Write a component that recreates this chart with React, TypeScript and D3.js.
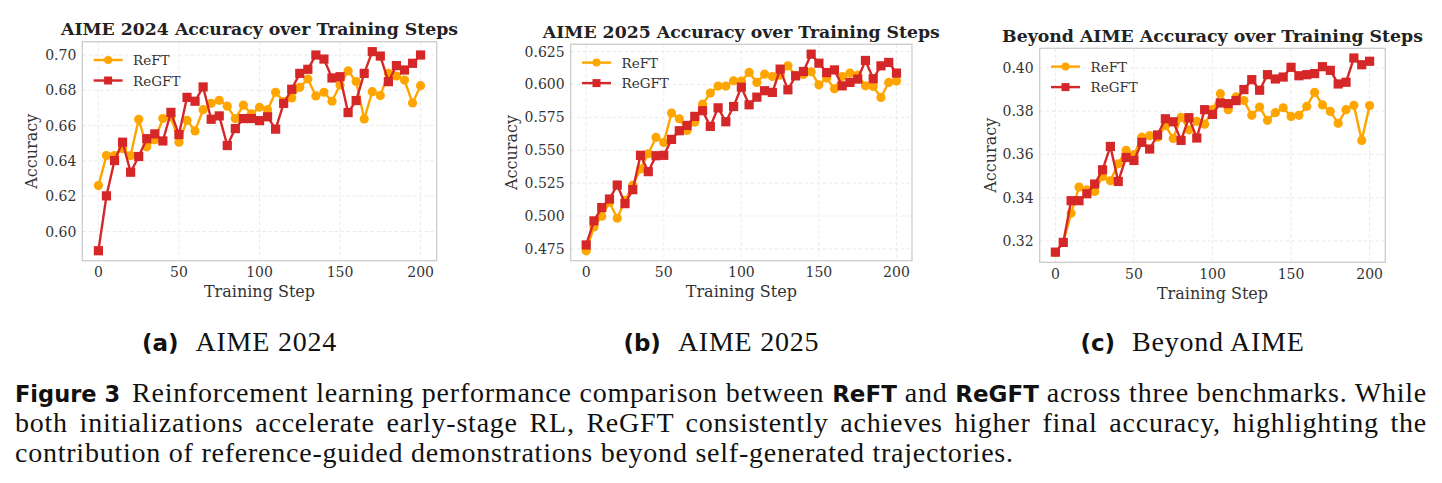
import React, { useEffect, useRef } from "react"
import * as d3 from "d3"

// training steps shared by all three benchmarks
const steps = [
  0, 5, 10, 15, 20, 25, 30, 35, 40, 45, 50, 55, 60, 65, 70, 75, 80, 85, 90, 95, 100,
  105, 110, 115, 120, 125, 130, 135, 140, 145, 150, 155, 160, 165, 170, 175, 180, 185, 190, 195, 200,
]
const xTicks = [0, 50, 100, 150, 200]

const aime24Reft = [
  0.626, 0.643, 0.643, 0.647, 0.643, 0.6636, 0.648, 0.652, 0.664, 0.665, 0.6506, 0.663, 0.657, 0.669,
  0.6726, 0.6743, 0.671, 0.664, 0.6716, 0.6666, 0.6704, 0.669, 0.6789, 0.6736, 0.6757, 0.6817, 0.6864,
  0.6768, 0.6789, 0.6738, 0.683, 0.691, 0.685, 0.6638, 0.6792, 0.677, 0.6896, 0.6881, 0.6858, 0.6728, 0.6826,
]
const aime24Regft = [
  0.5891, 0.6202, 0.6402, 0.6506, 0.6336, 0.6425, 0.6526, 0.6553, 0.6513, 0.6675, 0.6549, 0.676, 0.6738,
  0.6819, 0.6636, 0.6655, 0.6487, 0.6583, 0.664, 0.664, 0.6628, 0.665, 0.658, 0.6726, 0.6806, 0.6896,
  0.6919, 0.7, 0.6977, 0.687, 0.6877, 0.6674, 0.6742, 0.6896, 0.7019, 0.6994, 0.6849, 0.694, 0.6915, 0.6953, 0.7,
]
const aime24Ticks = [0.6, 0.62, 0.64, 0.66, 0.68, 0.7]

const aime25Reft = [
  0.4735, 0.4917, 0.4998, 0.5104, 0.4983, 0.5119, 0.5233, 0.5357, 0.5473, 0.5597, 0.5559, 0.5782, 0.5739,
  0.565, 0.5714, 0.585, 0.5934, 0.5987, 0.5987, 0.6027, 0.6025, 0.6091, 0.6015, 0.6078, 0.606, 0.607,
  0.6141, 0.6066, 0.6076, 0.6096, 0.5997, 0.6048, 0.5967, 0.606, 0.6086, 0.607, 0.5989, 0.5984, 0.5901, 0.6015, 0.6025,
]
const aime25Regft = [
  0.478, 0.4963, 0.5064, 0.5129, 0.5235, 0.5094, 0.52, 0.5461, 0.5337, 0.5458, 0.5461, 0.5582, 0.5648,
  0.5688, 0.5757, 0.58, 0.5681, 0.5822, 0.5716, 0.5832, 0.5979, 0.5845, 0.5903, 0.5952, 0.5939, 0.6116,
  0.5959, 0.6065, 0.6098, 0.623, 0.6161, 0.609, 0.611, 0.5989, 0.6015, 0.604, 0.6182, 0.6043, 0.6141, 0.6167, 0.6086,
]
const aime25Ticks = [0.475, 0.5, 0.525, 0.55, 0.575, 0.6, 0.625]

const beyondReft = [
  0.3146, 0.3193, 0.3328, 0.3449, 0.3436, 0.3429, 0.3498, 0.3478, 0.3557, 0.3619, 0.3599, 0.368, 0.3687,
  0.368, 0.3733, 0.3674, 0.3771, 0.3714, 0.3753, 0.374, 0.3807, 0.3881, 0.3807, 0.3866, 0.3849, 0.3781,
  0.3819, 0.3758, 0.3793, 0.3816, 0.3776, 0.3781, 0.3822, 0.3887, 0.3829, 0.3799, 0.3744, 0.3807, 0.3827, 0.3665, 0.3826,
]
const beyondRegft = [
  0.3148, 0.3193, 0.3386, 0.3386, 0.3418, 0.3463, 0.3529, 0.3637, 0.3475, 0.3586, 0.3572, 0.3656, 0.3625,
  0.369, 0.3765, 0.3751, 0.3665, 0.377, 0.3676, 0.3807, 0.3785, 0.3838, 0.3835, 0.3849, 0.39, 0.3946,
  0.3897, 0.3969, 0.3949, 0.3958, 0.4003, 0.3964, 0.3969, 0.3974, 0.4006, 0.3989, 0.3926, 0.3934, 0.4046, 0.4015, 0.4031,
]
const beyondTicks = [0.32, 0.34, 0.36, 0.38, 0.4]

const seriesNames = ["ReFT", "ReGFT"]
const seriesColors = ["#FFA500", "#D62728"]

const SERIF = "'DejaVu Serif', serif"
const CAPTION_SERIF = "'Liberation Serif', serif"
const SANS = "'DejaVu Sans', sans-serif"

const panels = [
  {
    title: "AIME 2024 Accuracy over Training Steps",
    tag: "(a)",
    name: "AIME 2024",
    reft: aime24Reft,
    regft: aime24Regft,
    yTicks: aime24Ticks,
    fmt: d3.format(".2f"),
    box: { left: 82.3, right: 436.7, top: 41.7, bottom: 260.7 },
    yLabelX: 31.7,
  },
  {
    title: "AIME 2025 Accuracy over Training Steps",
    tag: "(b)",
    name: "AIME 2025",
    reft: aime25Reft,
    regft: aime25Regft,
    yTicks: aime25Ticks,
    fmt: d3.format(".3f"),
    box: { left: 570.7, right: 912, top: 44.3, bottom: 260.7 },
    yLabelX: 511.7,
  },
  {
    title: "Beyond AIME Accuracy over Training Steps",
    tag: "(c)",
    name: "Beyond AIME",
    reft: beyondReft,
    regft: beyondRegft,
    yTicks: beyondTicks,
    fmt: d3.format(".2f"),
    box: { left: 1039.7, right: 1385.3, top: 48.3, bottom: 262.3 },
    yLabelX: 990,
  },
]

function Marker({ kind, x, y, color }) {
  if (kind === 0) return <circle cx={x} cy={y} r={4.6} fill={color} />
  return <rect x={x - 4.6} y={y - 4.6} width={9.2} height={9.2} fill={color} />
}

function Panel({ p }) {
  const { left, right, top, bottom } = p.box
  const x = d3.scaleLinear().domain([-10, 210]).range([left, right])
  const [lo, hi] = d3.extent([...p.reft, ...p.regft])
  const pad = (hi - lo) * 0.05
  const y = d3.scaleLinear().domain([lo - pad, hi + pad]).range([bottom, top])
  const line = d3
    .line<number>()
    .x((_, i) => x(steps[i]))
    .y((d) => y(d))
  const series = [p.reft, p.regft]
  const cx = (left + right) / 2

  return (
    <g>
      <rect x={left} y={top} width={right - left} height={bottom - top} fill="#fff" />
      {/* dashed grid */}
      {xTicks.map((t) => (
        <line key={"gx" + t} x1={x(t)} x2={x(t)} y1={top} y2={bottom} stroke="#e6e6e6" strokeWidth={0.8} strokeDasharray="3.5,2.5" />
      ))}
      {p.yTicks.map((t) => (
        <line key={"gy" + t} x1={left} x2={right} y1={y(t)} y2={y(t)} stroke="#e6e6e6" strokeWidth={0.8} strokeDasharray="3.5,2.5" />
      ))}
      <rect x={left} y={top} width={right - left} height={bottom - top} fill="none" stroke="#cccccc" strokeWidth={1.3} />

      {series.map((vals, k) => (
        <g key={k}>
          <path d={line(vals)} fill="none" stroke={seriesColors[k]} strokeWidth={2.4} strokeLinejoin="round" />
          {vals.map((v, i) => (
            <Marker key={i} kind={k} x={x(steps[i])} y={y(v)} color={seriesColors[k]} />
          ))}
        </g>
      ))}

      {/* legend */}
      {seriesNames.map((n, k) => {
        const ly = top + 18.3 + k * 20.5
        const lx = left + 11.3
        return (
          <g key={n}>
            <line x1={lx} x2={lx + 29} y1={ly} y2={ly} stroke={seriesColors[k]} strokeWidth={2.4} />
            {k === 0 ? (
              <circle cx={lx + 14.5} cy={ly} r={4} fill={seriesColors[k]} />
            ) : (
              <rect x={lx + 10.5} y={ly - 4} width={8} height={8} fill={seriesColors[k]} />
            )}
            <text x={lx + 39.5} y={ly} dominantBaseline="central" fontFamily={SERIF} fontSize={13.5} fill="#333">
              {n}
            </text>
          </g>
        )
      })}

      {/* axes text */}
      {xTicks.map((t) => (
        <text key={"tx" + t} x={x(t)} y={bottom + 11.5} textAnchor="middle" dominantBaseline="central" fontFamily={SERIF} fontSize={14} fill="#333">
          {t}
        </text>
      ))}
      {p.yTicks.map((t) => (
        <text key={"ty" + t} x={left - 6} y={y(t)} textAnchor="end" dominantBaseline="central" fontFamily={SERIF} fontSize={14} fill="#333">
          {p.fmt(t)}
        </text>
      ))}
      <text x={cx} y={bottom + 31} textAnchor="middle" dominantBaseline="central" fontFamily={SERIF} fontSize={16} fill="#333">
        Training Step
      </text>
      <text
        transform={`translate(${p.yLabelX},${(top + bottom) / 2}) rotate(-90)`}
        textAnchor="middle"
        dominantBaseline="central"
        fontFamily={SERIF}
        fontSize={16}
        fill="#333"
      >
        Accuracy
      </text>
      <text x={cx} y={top - 12.5} textAnchor="middle" dominantBaseline="central" fontFamily={SERIF} fontWeight="bold" fontSize={17.3} fill="#222">
        {p.title}
      </text>

      {/* sub caption, centred later once measured */}
      <text className="sub" data-cx={cx - 20} x={cx - 110} y={350.5} fill="#111">
        <tspan fontFamily={SANS} fontWeight={700} fontSize={23}>
          {p.tag}
        </tspan>
        <tspan className="serif" dx={17} fontFamily={CAPTION_SERIF} fontSize={28}>
          {p.name}
        </tspan>
      </text>
    </g>
  )
}

function Figure() {
  const ref = useRef<SVGGElement>(null)

  useEffect(() => {
    const root = d3.select(ref.current)
    // open up the serif letters so the last caption line runs to its measured width
    const last = root.select<SVGTextElement>("text.last").node()
    const chars = last.textContent.length
    const ls = (998 - last.getComputedTextLength()) / (chars - 1)
    root.selectAll(".serif").style("letter-spacing", `${ls}px`)

    // centre the sub captions under their panels
    root.selectAll<SVGTextElement, unknown>("text.sub").each(function () {
      const b = this.getBBox()
      const x0 = +this.getAttribute("x")
      const shift = +this.getAttribute("data-cx") - (b.x + b.width / 2)
      this.setAttribute("x", String(x0 + shift))
    })

    // stretch the word gaps of the justified lines out to the right margin
    root.selectAll<SVGTextElement, unknown>("text.justify").each(function () {
      const target = +this.getAttribute("data-end") - +this.getAttribute("x")
      const spaces = (this.textContent.match(/ /g) || []).length
      const natural = this.getComputedTextLength()
      if (spaces > 0) this.style.wordSpacing = `${(target - natural) / spaces}px`
    })
  }, [])

  const fs = 28
  return (
    <g ref={ref}>
      {panels.map((p) => (
        <Panel key={p.title} p={p} />
      ))}
      <g fill="#111">
        <text x={15} y={401.5} fontFamily={SANS} fontWeight={700} fontSize={22.5}>
          Figure 3
        </text>
        <text className="justify serif" x={132} data-end={1427} y={401.5} fontFamily={CAPTION_SERIF} fontSize={fs}>
          <tspan>Reinforcement learning performance comparison between </tspan>
          <tspan fontFamily={SANS} fontWeight={700} fontSize={23} style={{ letterSpacing: 0 }}>
            ReFT
          </tspan>
          <tspan> and </tspan>
          <tspan fontFamily={SANS} fontWeight={700} fontSize={23} style={{ letterSpacing: 0 }}>
            ReGFT
          </tspan>
          <tspan> across three benchmarks. While</tspan>
        </text>
        <text className="justify serif" x={15} data-end={1427} y={431.5} fontFamily={CAPTION_SERIF} fontSize={fs}>
          both initializations accelerate early-stage RL, ReGFT consistently achieves higher final accuracy, highlighting the
        </text>
        <text className="last serif" x={15} y={461.5} fontFamily={CAPTION_SERIF} fontSize={fs}>
          contribution of reference-guided demonstrations beyond self-generated trajectories.
        </text>
      </g>
    </g>
  )
}

export default function App() {
  return (
    <svg width={1442} height={483} style={{ position: "absolute", left: 0, top: 0, background: "#fff" }}>
      <rect width={1442} height={483} fill="#fff" />
      <Figure />
    </svg>
  )
}
